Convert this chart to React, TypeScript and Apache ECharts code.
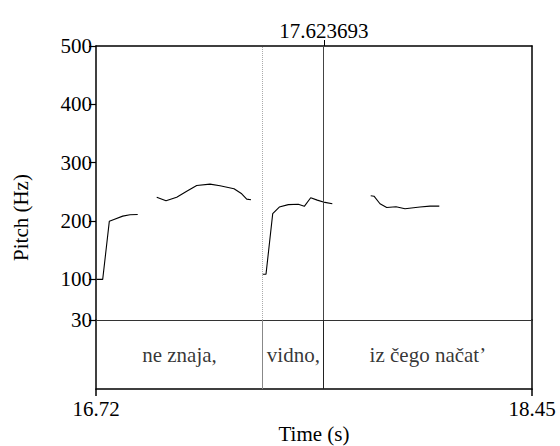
import React, { useEffect, useRef } from "react";
import * as echarts from "echarts";

const timeMin = 16.72;
const timeMax = 18.45;
const pitchMin = 30;
const pitchMax = 500;
const pitchTicks = [30, 100, 200, 300, 400, 500];
const timeTicks = [16.72, 18.45];
const cursorTime = 17.623693;
const boundaryTime = 17.3826;

const seg1Time = [16.7228, 16.7466, 16.7728, 16.7886, 16.826, 16.855, 16.8855];
const seg1Hz = [99.6, 99.6, 199.2, 202, 208.2, 210.6, 211];

const seg2Time = [16.9609, 16.9978, 17.0402, 17.08, 17.1196, 17.1724, 17.212, 17.2676, 17.2982, 17.318, 17.335];
const seg2Hz = [240.7, 234.6, 240.7, 251, 260.7, 263, 260.2, 255, 246.5, 237.3, 236.3];

const seg3Time = [17.3815, 17.3946, 17.4212, 17.4473, 17.483, 17.5227, 17.5465, 17.5719, 17.598, 17.6286, 17.6577];
const seg3Hz = [108.6, 108.6, 212.4, 223.8, 227.9, 228.5, 225, 239.7, 235.6, 231.7, 229.4];

const seg4Time = [17.81, 17.8231, 17.8469, 17.8735, 17.9104, 17.9461, 18.0056, 18.0453, 18.0822];
const seg4Hz = [243.1, 242.4, 229.4, 223.1, 224.3, 220.9, 223.7, 225.4, 225.4];

const tierLabels = ["ne znaja,", "vidno,", "iz čego načat’"];
const tierBounds = [16.72, 17.3826, 17.623693, 18.45];

const yAxisTitle = "Pitch (Hz)";
const xAxisTitle = "Time (s)";

const FONT = "Liberation Serif, Times New Roman, serif";

function buildPitchData() {
  const segs = [
    [seg1Time, seg1Hz],
    [seg2Time, seg2Hz],
    [seg3Time, seg3Hz],
    [seg4Time, seg4Hz],
  ];
  const out: any[] = [];
  segs.forEach(([t, h], si) => {
    if (si > 0) out.push([null, null]);
    t.forEach((tv, i) => out.push([tv, h[i]]));
  });
  return out;
}

export default function App() {
  const ref = useRef<HTMLDivElement>(null);
  useEffect(() => {
    if (!ref.current) return;
    const chart = echarts.init(ref.current, null, { renderer: "svg" });
    const textStyle = { fontFamily: FONT, fontSize: 21, color: "#000" };
    const boxLine = { show: true, onZero: false, lineStyle: { color: "#000", width: 1.5 } };
    const hiddenSide = {
      type: "value",
      min: 0,
      max: 1,
      axisLine: boxLine,
      axisTick: { show: false },
      axisLabel: { show: false },
      splitLine: { show: false },
    };
    chart.setOption({
      animation: false,
      textStyle: { fontFamily: FONT },
      grid: [
        { left: 96, right: 28, top: 46, height: 274, show: false },
        { left: 96, right: 28, top: 320, height: 69, show: false },
      ],
      graphic: [
        {
          type: "text",
          x: 21,
          y: 217.5,
          rotation: Math.PI / 2,
          style: {
            text: yAxisTitle,
            fontFamily: FONT,
            fontSize: 21,
            fill: "#000",
            align: "center",
            verticalAlign: "middle",
          },
        },
      ],
      xAxis: [
        {
          gridIndex: 0,
          type: "value",
          position: "top",
          min: timeMin,
          max: timeMax,
          axisLine: boxLine,
          splitLine: { show: false },
          axisTick: { show: true, customValues: [cursorTime], length: 6, lineStyle: { color: "#000" } },
          axisLabel: {
            show: true,
            customValues: [cursorTime],
            formatter: (v: number) => v.toFixed(6),
            margin: 5,
            ...textStyle,
          },
        },
        {
          gridIndex: 1,
          type: "value",
          position: "bottom",
          min: timeMin,
          max: timeMax,
          axisLine: boxLine,
          splitLine: { show: false },
          axisTick: { show: true, customValues: timeTicks, length: 7, lineStyle: { color: "#000", width: 1.5 } },
          axisLabel: {
            show: true,
            customValues: timeTicks,
            showMinLabel: true,
            showMaxLabel: true,
            formatter: (v: number) => v.toFixed(2),
            margin: 9,
            ...textStyle,
          },
          name: xAxisTitle,
          nameLocation: "middle",
          nameGap: 34,
          nameTextStyle: textStyle,
        },
      ],
      yAxis: [
        {
          gridIndex: 0,
          type: "value",
          position: "left",
          min: pitchMin,
          max: pitchMax,
          axisLine: boxLine,
          splitLine: { show: false },
          axisTick: { show: true, customValues: pitchTicks, length: 7, lineStyle: { color: "#000", width: 1.2 } },
          axisLabel: {
            show: true,
            customValues: pitchTicks,
            showMinLabel: true,
            showMaxLabel: true,
            margin: 4,
            ...textStyle,
          },
        },
        { ...hiddenSide, gridIndex: 0, position: "right" },
        { ...hiddenSide, gridIndex: 1, position: "left" },
        { ...hiddenSide, gridIndex: 1, position: "right" },
      ],
      series: [
        {
          type: "line",
          xAxisIndex: 0,
          yAxisIndex: 0,
          data: buildPitchData(),
          showSymbol: false,
          connectNulls: false,
          lineStyle: { color: "#000", width: 1.1 },
          markLine: {
            silent: true,
            symbol: "none",
            label: { show: false },
            data: [
              { xAxis: boundaryTime, lineStyle: { type: "dotted", color: "#aaa", width: 1 } },
              { xAxis: cursorTime, lineStyle: { type: "solid", color: "#444", width: 1 } },
              { yAxis: pitchMin, lineStyle: { type: "solid", color: "#333", width: 1 } },
            ],
          },
        },
        {
          type: "scatter",
          xAxisIndex: 1,
          yAxisIndex: 2,
          symbolSize: 0,
          data: tierLabels.map((name, i) => ({
            name,
            value: [(tierBounds[i] + tierBounds[i + 1]) / 2, 0.5],
          })),
          label: {
            show: true,
            position: "inside",
            formatter: "{b}",
            ...textStyle,
          },
          markLine: {
            silent: true,
            symbol: "none",
            label: { show: false },
            data: [
              { xAxis: tierBounds[1], lineStyle: { type: "solid", color: "#888", width: 1 } },
              { xAxis: tierBounds[2], lineStyle: { type: "solid", color: "#222", width: 1 } },
            ],
          },
        },
      ],
    });
    return () => chart.dispose();
  }, []);
  return <div ref={ref} style={{ width: 560, height: 446, position: "absolute", left: 0, top: 0 }} />;
}
